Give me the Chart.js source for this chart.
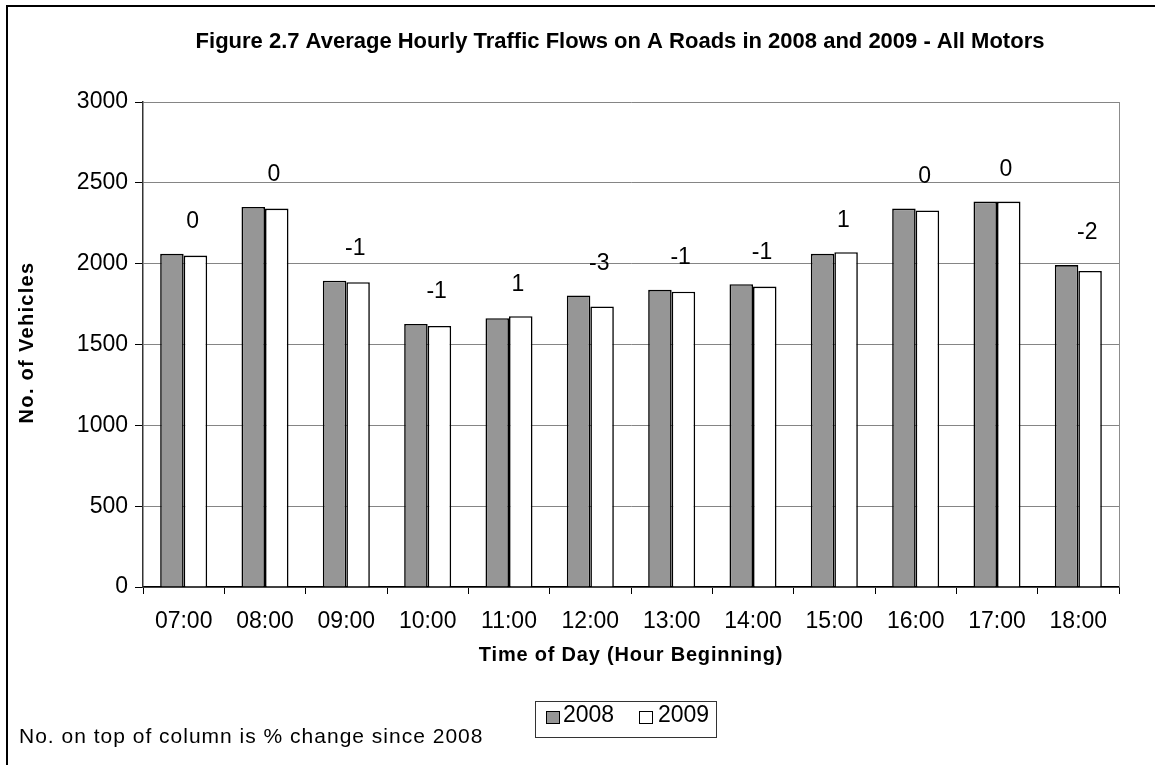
<!DOCTYPE html>
<html>
<head>
<meta charset="utf-8">
<script src="https://cdn.jsdelivr.net/npm/chart.js@4"></script>
<style>
html,body{margin:0;padding:0;background:#fff;}
canvas{display:block;}
</style>
</head>
<body>
<canvas id="c" width="1155" height="765"></canvas>
<script>
const categories = ['07:00','08:00','09:00','10:00','11:00','12:00','13:00','14:00','15:00','16:00','17:00','18:00'];
const flows2008 = [2061, 2351, 1895, 1627, 1663, 1803, 1838, 1873, 2061, 2341, 2384, 1991];
const flows2009 = [2050, 2341, 1885, 1615, 1675, 1735, 1827, 1858, 2071, 2329, 2384, 1955];
const pctChange = ['0','0','-1','-1','1','-3','-1','-1','1','0','0','-2'];
const seriesNames = ['2008','2009'];
const seriesColors = ['#969696','#ffffff'];
const titleText = 'Figure 2.7 Average Hourly Traffic Flows on A Roads in 2008 and 2009 - All Motors';
const xTitle = 'Time of Day (Hour Beginning)';
const yTitle = 'No. of Vehicles';
const footnote = 'No. on top of column is % change since 2008';
const yMin = 0, yMax = 3000, yStep = 500;

const FONT = '"Liberation Sans", Arial, Helvetica, sans-serif';

const decor = {
  id: 'decor',
  beforeDatasetsDraw(chart) {
    const {ctx, chartArea: a} = chart;
    ctx.save();
    ctx.strokeStyle = '#8c8c8c';
    ctx.lineWidth = 1;
    ctx.beginPath();
    ctx.moveTo(a.right + 0.5, a.top);
    ctx.lineTo(a.right + 0.5, a.bottom);
    ctx.stroke();
    ctx.restore();
  },
  afterDatasetsDraw(chart) {
    const ctx = chart.ctx;
    const m0 = chart.getDatasetMeta(0).data;
    const m1 = chart.getDatasetMeta(1).data;
    ctx.save();
    ctx.fillStyle = '#000';
    ctx.font = '23px ' + FONT;
    ctx.textAlign = 'center';
    ctx.textBaseline = 'middle';
    pctChange.forEach((t, i) => {
      const top = Math.min(m0[i].y, m1[i].y);
      const cx = (m0[i].x + m1[i].x) / 2 + 9;
      ctx.fillText(t, cx, top - 32);
    });
    ctx.restore();
  },
  afterDraw(chart) {
    const {ctx, chartArea: a} = chart;
    ctx.save();
    // outer frame
    ctx.strokeStyle = '#000';
    ctx.lineWidth = 2;
    ctx.beginPath();
    ctx.moveTo(7, 800);
    ctx.lineTo(7, 6);
    ctx.lineTo(1200, 6);
    ctx.stroke();
    ctx.fillStyle = '#000';
    // title
    ctx.font = 'bold 22px ' + FONT;
    ctx.textAlign = 'center';
    ctx.textBaseline = 'alphabetic';
    ctx.fillText(titleText, 620, 48);
    // x title
    ctx.font = 'bold 20px ' + FONT;
    ctx.letterSpacing = '0.8px';
    ctx.fillText(xTitle, (a.left + a.right) / 2, 661);
    // y title
    ctx.save();
    ctx.letterSpacing = '1.3px';
    ctx.translate(33, (a.top + a.bottom) / 2 - 2);
    ctx.rotate(-Math.PI / 2);
    ctx.textAlign = 'center';
    ctx.fillText(yTitle, 0, 0);
    ctx.restore();
    // footnote
    ctx.font = '21px ' + FONT;
    ctx.letterSpacing = '1px';
    ctx.textAlign = 'left';
    ctx.fillText(footnote, 19, 743);
    ctx.letterSpacing = '0px';
    // legend
    const lx = 535, ly = 701, lw = 181, lh = 36;
    ctx.strokeStyle = '#333';
    ctx.lineWidth = 1;
    ctx.strokeRect(lx + 0.5, ly + 0.5, lw, lh);
    ctx.font = '23px ' + FONT;
    ctx.textBaseline = 'middle';
    const items = [{sx: 546, tx: 563}, {sx: 639, tx: 658}];
    items.forEach((it, i) => {
      ctx.fillStyle = seriesColors[i];
      ctx.fillRect(it.sx, 711, 14, 13);
      ctx.strokeStyle = '#000';
      ctx.lineWidth = 1;
      ctx.strokeRect(it.sx + 0.5, 711.5, 13, 12);
      ctx.fillStyle = '#000';
      ctx.fillText(seriesNames[i], it.tx, 716);
    });
    ctx.restore();
  }
};

new Chart(document.getElementById('c'), {
  type: 'bar',
  data: {
    labels: categories,
    datasets: [
      {label: seriesNames[0], data: flows2008, backgroundColor: seriesColors[0], borderColor: '#000', borderWidth: 1.6},
      {label: seriesNames[1], data: flows2009, backgroundColor: seriesColors[1], borderColor: '#000', borderWidth: 1.6}
    ]
  },
  options: {
    responsive: false,
    devicePixelRatio: 1,
    animation: false,
    events: [],
    categoryPercentage: 0.578,
    barPercentage: 1.0,
    layout: {padding: {left: 0, right: 36, top: 102, bottom: 118}},
    plugins: {legend: {display: false}, title: {display: false}, tooltip: {enabled: false}},
    scales: {
      x: {
        offset: true,
        grid: {display: true, drawOnChartArea: false, drawTicks: true, tickLength: 7, tickColor: '#000', offset: true},
        border: {color: '#000', width: 1.5},
        ticks: {color: '#000', font: {size: 23, family: FONT}, padding: 14, maxRotation: 0, autoSkip: false},
        afterFit(s) { s.height = 60; }
      },
      y: {
        min: yMin, max: yMax,
        grid: {color: '#858585', lineWidth: 1, tickColor: '#000', tickLength: 8},
        border: {color: '#333', width: 1.5},
        ticks: {stepSize: yStep, color: '#000', font: {size: 23, family: FONT}, padding: 7,
                callback: (v) => String(v)},
        afterFit(s) { s.width = 143; }
      }
    }
  },
  plugins: [decor]
});
</script>
</body>
</html>
